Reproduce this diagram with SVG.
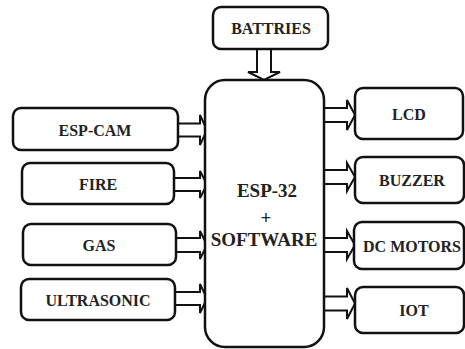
<svg xmlns="http://www.w3.org/2000/svg" width="465" height="349" viewBox="0 0 465 349">
<style>
.box{fill:#fff;stroke:#111;stroke-width:2.5}
.arr{fill:#fff;stroke:#111;stroke-width:2;stroke-linejoin:miter}
</style>
<rect width="465" height="349" fill="#fff"/>
<g id="connectors">
<polygon class="arr" points="257,49 271,49 271,72 280,72 264,80 248,72 257,72"/>
<polygon class="arr" points="178,123.5 200,123.5 200,115 207,130 200,145 200,136.5 178,136.5"/>
<polygon class="arr" points="174,178 200,178 200,171 207,184.5 200,198 200,191 174,191"/>
<polygon class="arr" points="176,238 200,238 200,231 207,245 200,259 200,252 176,252"/>
<polygon class="arr" points="175,292 200,292 200,284 207,298.5 200,313 200,305 175,305"/>
<polygon class="arr" points="324,108 347,108 347,100 355,115 347,130 347,122 324,122"/>
<polygon class="arr" points="324,170 347,170 347,163 355,177 347,191 347,184 324,184"/>
<polygon class="arr" points="324,238 347,238 347,231 355,245 347,259 347,252 324,252"/>
<polygon class="arr" points="324,296.5 347,296.5 347,288 355,303.5 347,319 347,310.5 324,310.5"/>
</g>
<g font-family="Liberation Serif, serif" font-weight="bold" font-size="16" fill="#222" text-anchor="middle">
<g id="batteries"><rect class="box" x="213" y="7" width="115" height="42" rx="8"/><text style="font-family:'Liberation Serif',serif" x="271" y="34">BATTRIES</text></g>
<g id="esp32" font-size="19"><rect class="box" x="205" y="80" width="119" height="267" rx="20"/>
<text style="font-family:'Liberation Serif',serif" x="267" y="197">ESP-32</text>
<text style="font-family:'Liberation Serif',serif" x="266" y="224">+</text>
<text style="font-family:'Liberation Serif',serif" x="264" y="246">SOFTWARE</text></g>
<g id="espcam"><rect class="box" x="13" y="108" width="165" height="42" rx="8"/><text style="font-family:'Liberation Serif',serif" x="95" y="136">ESP-CAM</text></g>
<g id="fire"><rect class="box" x="22" y="163" width="152" height="41" rx="8"/><text style="font-family:'Liberation Serif',serif" x="98" y="190">FIRE</text></g>
<g id="gas"><rect class="box" x="23" y="224" width="153" height="41" rx="8"/><text style="font-family:'Liberation Serif',serif" x="99" y="251">GAS</text></g>
<g id="ultrasonic"><rect class="box" x="21" y="279" width="154" height="41" rx="8"/><text style="font-family:'Liberation Serif',serif" x="98" y="306">ULTRASONIC</text></g>
<g id="lcd"><rect class="box" x="355" y="88" width="108" height="51" rx="8"/><text style="font-family:'Liberation Serif',serif" x="409" y="120">LCD</text></g>
<g id="buzzer"><rect class="box" x="355" y="157" width="109" height="46" rx="8"/><text style="font-family:'Liberation Serif',serif" x="412" y="186">BUZZER</text></g>
<g id="dcmotors"><rect class="box" x="354" y="222" width="110" height="47" rx="8"/><text style="font-family:'Liberation Serif',serif" x="412" y="252">DC MOTORS</text></g>
<g id="iot"><rect class="box" x="355" y="287" width="109" height="46" rx="8"/><text style="font-family:'Liberation Serif',serif" x="414" y="316">IOT</text></g>
</g>
</svg>
